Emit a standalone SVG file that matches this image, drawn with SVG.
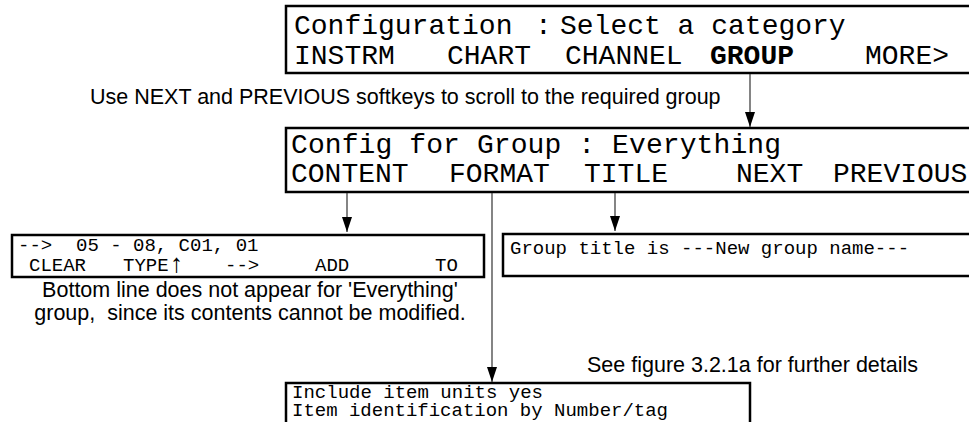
<svg xmlns="http://www.w3.org/2000/svg" width="969" height="422" viewBox="0 0 969 422">
<style>
.box{fill:#fff;stroke:#000;stroke-width:2.5}
.big{font-family:"Liberation Mono","DejaVu Sans Mono",monospace;font-size:28px;fill:#000}
.sm{font-family:"Liberation Mono","DejaVu Sans Mono",monospace;font-size:19px;fill:#000}
.cap{font-family:"Liberation Sans",Arial,sans-serif;font-size:21.5px;fill:#000}
.ln{stroke:#333;stroke-width:1.2;fill:none}
</style>
<defs>
<marker id="ah" viewBox="0 0 15 10" refX="15" refY="5" markerWidth="15" markerHeight="10" markerUnits="userSpaceOnUse" orient="auto">
<path d="M0,0 L15,5 L0,10 Z" fill="#000"/>
</marker>
</defs>
<rect width="969" height="422" fill="#fff"/>

<g id="menu-category">
<rect class="box" x="286" y="6" width="700" height="67"/>
<text class="big" x="294" y="34">Configuration</text>
<text class="big" x="535" y="34">:</text>
<text class="big" x="560" y="34">Select a category</text>
<text class="big" x="294" y="64">INSTRM</text>
<text class="big" x="447" y="64">CHART</text>
<text class="big" x="565" y="64">CHANNEL</text>
<text class="big" x="710" y="64" font-weight="bold">GROUP</text>
<text class="big" x="865" y="64">MORE&gt;</text>
</g>

<g id="note-scroll">
<text class="cap" x="90" y="104" font-size="22">Use NEXT and PREVIOUS softkeys to scroll to the required group</text>
</g>

<g id="menu-group">
<rect class="box" x="286" y="128" width="700" height="64"/>
<text class="big" x="291" y="153" textLength="490">Config for Group : Everything</text>
<text class="big" x="291" y="182">CONTENT</text>
<text class="big" x="449" y="182">FORMAT</text>
<text class="big" x="584" y="182">TITLE</text>
<text class="big" x="736" y="182">NEXT</text>
<text class="big" x="833" y="182">PREVIOUS</text>
</g>

<g id="content-display">
<rect class="box" x="12" y="235" width="472" height="42"/>
<text class="sm" x="18" y="251">--&gt;</text>
<text class="sm" x="76" y="251">05 - 08, C01, 01</text>
<text class="sm" x="29" y="271">CLEAR</text>
<text class="sm" x="123" y="271">TYPE</text>
<text x="170" y="272" font-family="Liberation Sans,Arial,sans-serif" font-size="26">↑</text>
<text class="sm" x="225" y="271">--&gt;</text>
<text class="sm" x="315" y="271">ADD</text>
<text class="sm" x="435" y="271">TO</text>
</g>

<g id="note-everything">
<text class="cap" x="250" y="297" text-anchor="middle">Bottom line does not appear for 'Everything'</text>
<text class="cap" x="250" y="320" text-anchor="middle">group, &#160;since its contents cannot be modified.</text>
</g>

<g id="title-display">
<rect class="box" x="503" y="234" width="480" height="42"/>
<text class="sm" x="510" y="254">Group title is ---New group name---</text>
</g>

<g id="note-figure">
<text class="cap" x="587" y="372">See figure 3.2.1a for further details</text>
</g>

<g id="format-display">
<rect class="box" x="286" y="383" width="464" height="60"/>
<text class="sm" x="292" y="398" font-size="18" textLength="251">Include item units yes</text>
<text class="sm" x="292" y="416" font-size="18" textLength="376">Item identification by Number/tag</text>
</g>

<g id="connectors">
<line class="ln" x1="750" y1="74" x2="750" y2="127" marker-end="url(#ah)"/>
<line class="ln" x1="347" y1="193" x2="347" y2="232" marker-end="url(#ah)"/>
<line class="ln" x1="492" y1="193" x2="492" y2="382" marker-end="url(#ah)"/>
<line class="ln" x1="615" y1="193" x2="615" y2="231" marker-end="url(#ah)"/>
</g>
</svg>
